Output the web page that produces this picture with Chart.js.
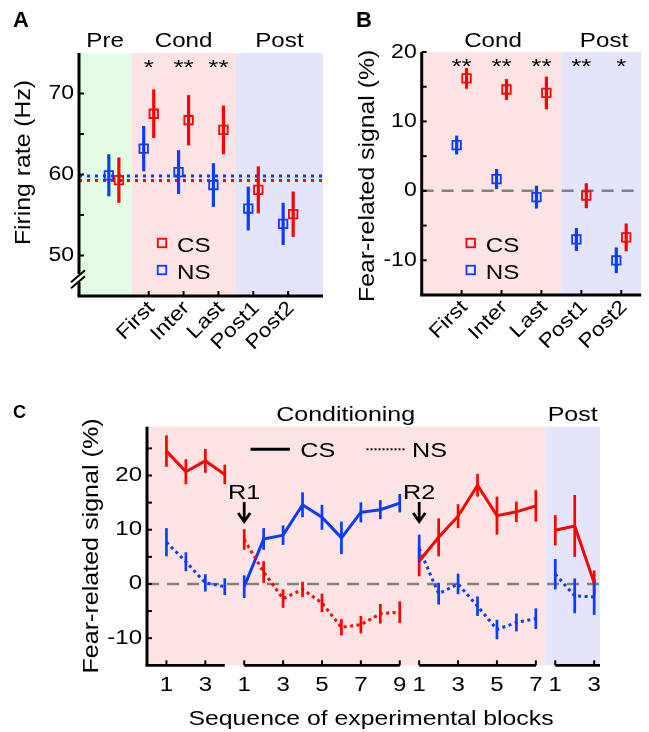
<!DOCTYPE html>
<html>
<head>
<meta charset="utf-8">
<script src="https://cdn.jsdelivr.net/npm/chart.js@4.4.0/dist/chart.umd.min.js"></script>
<style>
  body { margin: 0; background: #fff; }
  #wrap { position: relative; width: 649px; height: 732px; }
  #wrap canvas { position: absolute; left: 0; top: 0; }
</style>
</head>
<body>
<div id="wrap">
  <canvas id="chartA" width="649" height="732"></canvas>
  <canvas id="chartB" width="649" height="732"></canvas>
  <canvas id="chartC" width="649" height="732"></canvas>
</div>
<script>
// ---------- data ----------
// panel A: firing rate (Hz), index 0 = Pre, then the five phases
const condLabels = ['First', 'Inter', 'Last', 'Post1', 'Post2'];
const rateNS = [59.9, 63.2, 60.3, 58.7, 55.8, 53.9];
const rateNSerr = [2.6, 2.8, 2.7, 2.7, 2.7, 2.6];
const rateCS = [59.3, 67.5, 66.7, 65.5, 58.1, 55.1];
const rateCSerr = [2.8, 3.0, 3.1, 3.0, 2.9, 2.8];
const starsA = ['', '*', '**', '**', '', ''];
const preMeanNS = 59.8;
const preMeanCS = 59.25;
const yTicksA = [50, 60, 70];
const yMinorA = [55, 65];

// panel B: fear-related signal (%)
const fearCS = [16.2, 14.6, 14.1, -0.7, -6.7];
const fearCSerr = [1.5, 1.5, 2.35, 1.8, 2.0];
const fearNS = [6.6, 1.7, -0.9, -7.0, -10.0];
const fearNSerr = [1.35, 1.45, 1.65, 1.65, 1.85];
const starsB = ['**', '**', '**', '**', '*'];
const yTicksB = [-10, 0, 10, 20];
const yMinorB = [-5, 5, 15];

// panel C: blocks per group (initial, after R1, after R2, post)
const groupSizes = [4, 9, 7, 3];
const redCS = [true, false, true, true];   // is the red tone the CS in that group
const redMean = [
  [24.5, 20.7, 22.7, 20.2],
  [8.2, 2.2, -2.7, -1.0, -3.5, -8.0, -7.5, -5.5, -5.2],
  [4.2, 8.6, 12.5, 18.2, 12.6, 13.3, 14.4],
  [9.9, 10.7, 0.2]
];
const redErr = [
  [2.9, 2.3, 2.2, 1.8],
  [1.9, 2.0, 1.7, 1.4, 1.7, 1.5, 1.6, 1.8, 2.0],
  [2.8, 3.5, 2.2, 2.1, 3.5, 1.9, 2.9],
  [2.8, 5.7, 2.3]
];
const blueMean = [
  [7.7, 4.1, 0.2, -0.5],
  [-0.5, 8.3, 9.0, 14.6, 12.3, 8.5, 13.2, 13.7, 14.9],
  [6.5, -1.8, 0.0, -4.1, -8.4, -7.1, -6.4],
  [1.8, -2.2, -2.4]
];
const blueErr = [
  [2.6, 1.75, 1.6, 1.55],
  [2.1, 2.0, 1.8, 2.3, 2.3, 3.0, 1.85, 1.75, 1.7],
  [2.6, 2.0, 1.9, 1.8, 1.8, 1.65, 1.9],
  [2.8, 3.2, 3.3]
];
const yTicksC = [-10, 0, 10, 20];
const yMinorC = [-5, 5, 15, 25];

// ---------- style ----------
const RED = '#ff0000';
const BLUE = '#0a3cff';
const PINK = '#fde4e4';
const GREEN = '#e4fce4';
const LAV = '#e4e4fb';
const FONT = '"Liberation Sans", Arial, sans-serif';

function txt(ctx, s, x, y, o) {
  o = o || {};
  ctx.save();
  ctx.font = (o.bold ? 'bold ' : '') + (o.size || 20) + 'px ' + FONT;
  ctx.fillStyle = o.color || '#000';
  ctx.textAlign = o.align || 'center';
  ctx.textBaseline = o.base || 'alphabetic';
  ctx.translate(x, y);
  if (o.rot) ctx.rotate(o.rot);
  ctx.scale(o.sx == null ? 1.15 : o.sx, 1);
  ctx.fillText(s, 0, 0);
  ctx.restore();
}

function line(ctx, x1, y1, x2, y2, color, w, dash, cap) {
  ctx.save();
  ctx.strokeStyle = color;
  ctx.lineWidth = w;
  ctx.lineCap = cap || 'butt';
  ctx.setLineDash(dash || []);
  ctx.beginPath();
  ctx.moveTo(x1, y1);
  ctx.lineTo(x2, y2);
  ctx.stroke();
  ctx.restore();
}

function shade(chart, a, b, color) {
  const { ctx, chartArea: ca, scales: { x } } = chart;
  const x1 = x.getPixelForValue(a), x2 = x.getPixelForValue(b);
  ctx.fillStyle = color;
  ctx.fillRect(x1, ca.top, x2 - x1, ca.bottom - ca.top);
}

function hline(chart, v, color, w, dash) {
  const { ctx, chartArea: ca, scales: { y } } = chart;
  const py = y.getPixelForValue(v);
  line(ctx, ca.left, py, ca.right, py, color, w, dash);
}

function errBars(chart, xs, ms, es, color, w) {
  const { ctx, scales: { x, y } } = chart;
  xs.forEach((xv, i) => {
    const px = x.getPixelForValue(xv);
    line(ctx, px, y.getPixelForValue(ms[i] - es[i]), px, y.getPixelForValue(ms[i] + es[i]), color, w);
  });
}

function yTicks(chart, major, minor, size, sx) {
  const { ctx, chartArea: ca, scales: { y } } = chart;
  major.concat(minor).forEach(v => {
    const py = y.getPixelForValue(v);
    line(ctx, ca.left, py, ca.left + 5, py, '#000', 2);
  });
  major.forEach(v => {
    txt(ctx, String(v), ca.left - 5, y.getPixelForValue(v), { align: 'right', base: 'middle', size: size, sx: sx });
  });
}

function xRotLabels(chart, pos, labels) {
  const { ctx, chartArea: ca, scales: { x } } = chart;
  pos.forEach((p, i) => {
    const px = x.getPixelForValue(p);
    line(ctx, px, ca.bottom, px, ca.bottom - 5, '#000', 2);
    txt(ctx, labels[i], px + 3, ca.bottom + 9, { align: 'right', base: 'middle', rot: -Math.PI / 4, size: 20 });
  });
}

function legendSquares(ctx, x, y1, y2, r) {
  const s = r * Math.SQRT2;
  ctx.save();
  ctx.lineWidth = 1.8;
  ctx.strokeStyle = RED;
  ctx.strokeRect(x - s / 2, y1 - s / 2, s, s);
  ctx.strokeStyle = BLUE;
  ctx.strokeRect(x - s / 2, y2 - s / 2, s, s);
  ctx.restore();
  txt(ctx, 'CS', x + 15, y1 + 8.5, { align: 'left', size: 21 });
  txt(ctx, 'NS', x + 15, y2 + 8.5, { align: 'left', size: 21 });
}

function makeChart(id, area, xr, yr, datasets, plugin) {
  return new Chart(document.getElementById(id), {
    type: 'scatter',
    data: { datasets: datasets },
    options: {
      responsive: false,
      animation: false,
      events: [],
      layout: { padding: { left: area[0], top: area[1], right: 649 - area[2], bottom: 732 - area[3] } },
      scales: {
        x: { type: 'linear', min: xr[0], max: xr[1], display: false, ticks: { display: false }, grid: { display: false }, border: { display: false } },
        y: { type: 'linear', min: yr[0], max: yr[1], display: false, ticks: { display: false }, grid: { display: false }, border: { display: false } }
      },
      plugins: { legend: { display: false }, tooltip: { enabled: false } }
    },
    plugins: [plugin]
  });
}

function squareSet(xs, ys, color) {
  return {
    data: xs.map((xv, i) => ({ x: xv, y: ys[i] })),
    pointStyle: 'rect',
    pointRadius: 6,
    borderWidth: 1.8,
    borderColor: color,
    backgroundColor: 'rgba(0,0,0,0)'
  };
}

// ---------- panel A ----------
const offA = 0.144;
const posA = rateCS.map((_, i) => i);
const xsA_NS = posA.map(p => p - offA);
const xsA_CS = posA.map(p => p + offA);

makeChart('chartA', [79, 53, 323, 296], [-1, 6], [45, 75],
  [squareSet(xsA_NS, rateNS, BLUE), squareSet(xsA_CS, rateCS, RED)],
  {
    id: 'panelA',
    beforeDatasetsDraw(chart) {
      shade(chart, -1, 0.5, GREEN);
      shade(chart, 0.5, 3.5, PINK);
      shade(chart, 3.5, 6, LAV);
      hline(chart, preMeanNS, BLUE, 3, [3, 5]);
      hline(chart, preMeanCS, RED, 3, [3, 5]);
      errBars(chart, xsA_NS, rateNS, rateNSerr, BLUE, 3.2);
      errBars(chart, xsA_CS, rateCS, rateCSerr, RED, 3.2);
    },
    afterDraw(chart) {
      const { ctx, chartArea: ca, scales: { x, y } } = chart;
      const yb = y.getPixelForValue(47.2);
      line(ctx, ca.left, ca.top, ca.left, yb - 4, '#000', 3);
      line(ctx, ca.left, yb + 4, ca.left, ca.bottom, '#000', 3);
      line(ctx, ca.left - 8, yb + 4, ca.left + 6, yb - 8, '#000', 2);
      line(ctx, ca.left - 8, yb + 10, ca.left + 6, yb - 2, '#000', 2);
      line(ctx, ca.left - 1.5, ca.bottom, ca.right, ca.bottom, '#000', 3);
      yTicks(chart, yTicksA, yMinorA, 20);
      xRotLabels(chart, [1, 2, 3, 4, 5], condLabels);
      starsA.forEach((s, i) => {
        if (s) txt(ctx, s, x.getPixelForValue(i), y.getPixelForValue(73.8) + 11, { size: 20, sx: 1.3 });
      });
      txt(ctx, 'Pre', x.getPixelForValue(-0.25), 46.7, { size: 21 });
      txt(ctx, 'Cond', x.getPixelForValue(2), 46.7, { size: 21 });
      txt(ctx, 'Post', x.getPixelForValue(4.75), 46.7, { size: 21 });
      legendSquares(ctx, 162, 243, 270, 6);
      txt(ctx, 'Firing rate (Hz)', 24, 162.5, { rot: -Math.PI / 2, base: 'middle', size: 22, sx: 1.125 });
      txt(ctx, 'A', 13, 26.7, { align: 'left', bold: true, size: 22, sx: 1 });
    }
  });

// ---------- panel B ----------
const offB = 0.124;
const posB = fearCS.map((_, i) => i + 1);
const xsB_NS = posB.map(p => p - offB);
const xsB_CS = posB.map(p => p + offB);

makeChart('chartB', [421.7, 52, 645, 295], [0, 5.5], [-15, 20],
  [squareSet(xsB_NS, fearNS, BLUE), squareSet(xsB_CS, fearCS, RED)],
  {
    id: 'panelB',
    beforeDatasetsDraw(chart) {
      shade(chart, 0, 3.5, PINK);
      shade(chart, 3.5, 5.5, LAV);
      hline(chart, 0, 'rgba(95,95,95,0.75)', 2.5, [12, 8]);
      errBars(chart, xsB_NS, fearNS, fearNSerr, BLUE, 3.2);
      errBars(chart, xsB_CS, fearCS, fearCSerr, RED, 3.2);
    },
    afterDraw(chart) {
      const { ctx, chartArea: ca, scales: { x, y } } = chart;
      line(ctx, ca.left, ca.top, ca.left, ca.bottom, '#000', 3);
      line(ctx, ca.left - 1.5, ca.bottom, ca.right, ca.bottom, '#000', 3);
      yTicks(chart, yTicksB, yMinorB, 20);
      xRotLabels(chart, posB, condLabels);
      starsB.forEach((s, i) => {
        txt(ctx, s, x.getPixelForValue(posB[i]), y.getPixelForValue(18.5) + 11, { size: 20, sx: 1.3 });
      });
      txt(ctx, 'Cond', 493, 46.7, { size: 21 });
      txt(ctx, 'Post', 604, 46.7, { size: 21 });
      legendSquares(ctx, 470.7, 243, 270, 6);
      txt(ctx, 'Fear-related signal (%)', 367.5, 175.8, { rot: -Math.PI / 2, base: 'middle', size: 22, sx: 1.127 });
      txt(ctx, 'B', 356, 26.7, { align: 'left', bold: true, size: 22, sx: 1 });
    }
  });

// ---------- panel C ----------
const groupStart = [];
groupSizes.reduce((acc, n) => { groupStart.push(acc); return acc + n; }, 1);
const xMaxC = 23.3;
const dsC = [];
const barsC = [];
groupSizes.forEach((n, g) => {
  const xs = redMean[g].map((_, i) => groupStart[g] + i);
  [[redMean, redErr, RED, redCS[g]], [blueMean, blueErr, BLUE, !redCS[g]]].forEach(([m, e, col, isCS]) => {
    dsC.push({
      data: xs.map((xv, i) => ({ x: xv, y: m[g][i] })),
      showLine: true,
      borderColor: col,
      borderWidth: 3,
      borderDash: isCS ? [] : [3, 3.5],
      pointRadius: 0,
      clip: false
    });
    barsC.push([xs, m[g], e[g], col]);
  });
});

makeChart('chartC', [147, 426.7, 600, 665.3], [0, xMaxC], [-15, 29], dsC, {
  id: 'panelC',
  beforeDatasetsDraw(chart) {
    shade(chart, 0, 20.5, PINK);
    shade(chart, 20.5, xMaxC, LAV);
    hline(chart, 0, 'rgba(95,95,95,0.75)', 2.5, [12, 8]);
    barsC.filter(b => b[3] === RED).forEach(b => errBars(chart, b[0], b[1], b[2], RED, 2.7));
    barsC.filter(b => b[3] === BLUE).forEach(b => errBars(chart, b[0], b[1], b[2], BLUE, 2.7));
  },
  afterDraw(chart) {
    const { ctx, chartArea: ca, scales: { x, y } } = chart;
    line(ctx, ca.left, ca.top, ca.left, ca.bottom, '#000', 3);
    yTicks(chart, yTicksC, yMinorC, 20, 1.2);
    groupSizes.forEach((n, g) => {
      const a = g === 0 ? 0 : groupStart[g];
      const b = g === groupSizes.length - 1 ? xMaxC : groupStart[g] + n - 1;
      line(ctx, x.getPixelForValue(a) - (g === 0 ? 1.5 : 0), ca.bottom, x.getPixelForValue(b), ca.bottom, '#000', 2.8);
      for (let k = 1; k <= n; k += 2) {
        const px = x.getPixelForValue(groupStart[g] + k - 1);
        line(ctx, px, ca.bottom, px, ca.bottom - 5, '#000', 2);
        txt(ctx, String(k), px, 690.5, { size: 20, sx: 1.2 });
      }
    });
    // reversal arrows
    [['R1', groupStart[1]], ['R2', groupStart[2]]].forEach(([s, p]) => {
      const px = x.getPixelForValue(p);
      txt(ctx, s, px, 499.3, { size: 21, sx: 1.2 });
      line(ctx, px, 502, px, 521, '#000', 2.8);
      ctx.save();
      ctx.strokeStyle = '#000';
      ctx.lineWidth = 2.8;
      ctx.beginPath();
      ctx.moveTo(px - 6, 513);
      ctx.lineTo(px, 521.5);
      ctx.lineTo(px + 6, 513);
      ctx.stroke();
      ctx.restore();
    });
    // line-style legend
    line(ctx, 250.5, 449.3, 289.9, 449.3, '#000', 3);
    txt(ctx, 'CS', 300.2, 456.7, { align: 'left', size: 21, sx: 1.2 });
    line(ctx, 366.5, 449.3, 405.8, 449.3, '#000', 2, [2, 2]);
    txt(ctx, 'NS', 412, 456.7, { align: 'left', size: 21, sx: 1.2 });
    txt(ctx, 'Conditioning', 345.7, 420.7, { size: 21, sx: 1.19 });
    txt(ctx, 'Post', 572.7, 421, { size: 21, sx: 1.19 });
    txt(ctx, 'Sequence of experimental blocks', 371, 725, { size: 21, sx: 1.18 });
    txt(ctx, 'Fear-related signal (%)', 92, 546, { rot: -Math.PI / 2, base: 'middle', size: 22, sx: 1.14 });
    txt(ctx, 'C', 13, 418.3, { align: 'left', bold: true, size: 18, sx: 1 });
  }
});
</script>
</body>
</html>
